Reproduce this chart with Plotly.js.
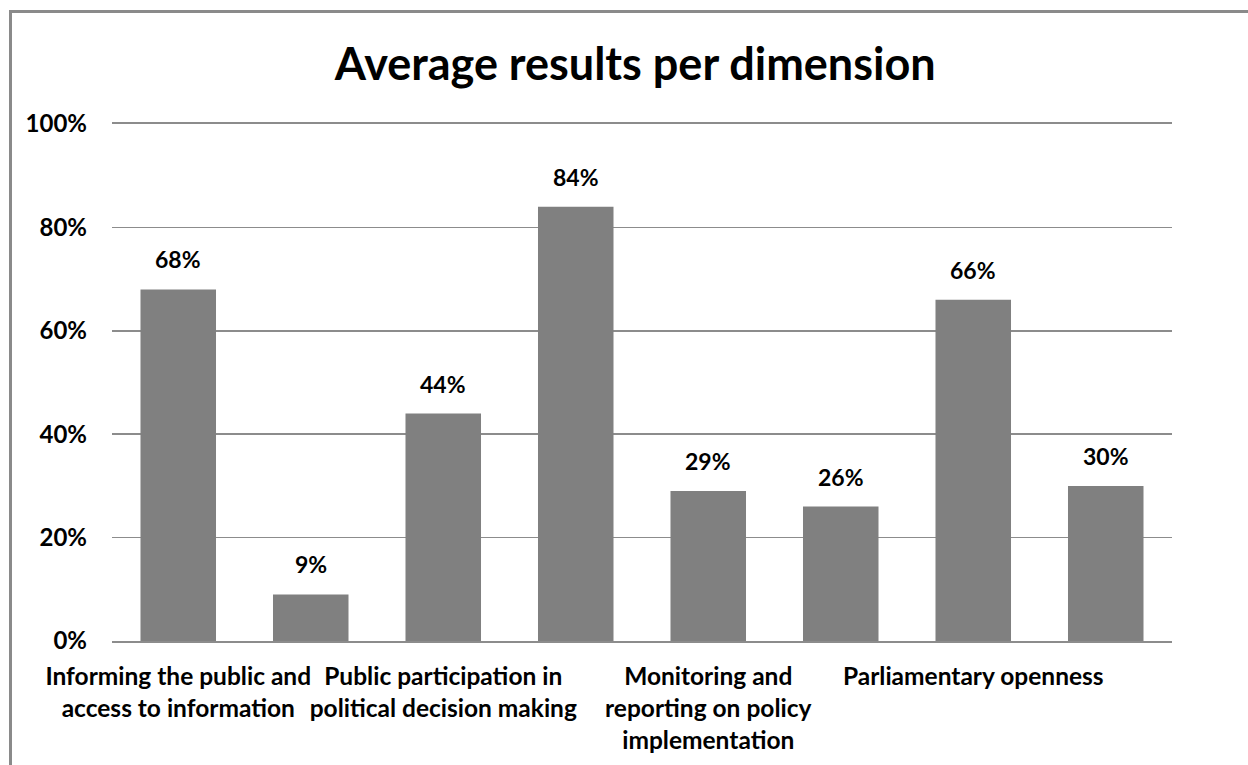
<!DOCTYPE html>
<html>
<head>
<meta charset="utf-8">
<script src="https://cdn.plot.ly/plotly-3.0.1.min.js"></script>
<style>
  html, body { margin: 0; padding: 0; background: #ffffff; }
  #frame {
    position: absolute; left: 9px; top: 10px; width: 1300px; height: 800px;
    border-top: 3px solid #8a8a8a; border-left: 3px solid #8a8a8a;
    background: #ffffff;
  }
  #chart { position: absolute; left: 0; top: 0; width: 1248px; height: 765px; }
</style>
</head>
<body>
<div id="frame"></div>
<div id="chart"></div>
<script>
// Dimension names, each shown under the first of its two bars
const dimensions = [
  'Informing the public and<br>access to information',
  'Public participation in<br>political decision making',
  'Monitoring and<br>reporting on policy<br>implementation',
  'Parliamentary openness'
];
// Average result per bar, in percent
const values = [68, 9, 44, 84, 29, 26, 66, 30];
const yTicks = [0, 20, 40, 60, 80, 100];
const yTickText = ['0%', '20%', '40%', '60%', '80%', '100%'];

const barPos = values.map((v, i) => i);
const labelPos = dimensions.map((d, i) => i * 2);

const FONT = 'Lato, "Open Sans", sans-serif';

const trace = {
  type: 'bar',
  x: barPos,
  y: values,
  width: 0.57,
  marker: { color: '#808080', line: { width: 0 } },
  hoverinfo: 'skip'
};

const annotations = values.map((v, i) => ({
  x: i, y: v, xref: 'x', yref: 'y',
  text: v + '%',
  showarrow: false,
  yanchor: 'bottom',
  yshift: 14,
  font: { family: FONT, size: 23, color: '#000000', weight: 'bold' }
}));

const layout = {
  width: 1248, height: 765,
  margin: { l: 112, r: 76, t: 124, b: 124 },
  paper_bgcolor: 'rgba(0,0,0,0)',
  plot_bgcolor: 'rgba(0,0,0,0)',
  showlegend: false,
  title: {
    text: 'Average results per dimension',
    font: { family: FONT, size: 45, color: '#000000', weight: 'bold' },
    x: 0.509, xanchor: 'center', xref: 'container',
    y: 0.916, yanchor: 'middle', yref: 'container'
  },
  xaxis: {
    range: [-0.5, 7.5],
    tickvals: labelPos,
    ticktext: dimensions,
    tickangle: 0,
    tickfont: { family: FONT, size: 24.5, color: '#000000', weight: 'bold' },
    ticks: '',
    ticklabelstandoff: 13,
    showgrid: false,
    zeroline: false,
    showline: true,
    mirror: true,
    linecolor: '#8c8c8c',
    linewidth: 2,
    fixedrange: true
  },
  yaxis: {
    range: [0, 100],
    tickvals: yTicks,
    ticktext: yTickText,
    tickfont: { family: FONT, size: 24, color: '#000000', weight: 'bold' },
    ticks: '',
    ticklabelstandoff: 24,
    showgrid: true,
    gridcolor: '#8c8c8c',
    gridwidth: 1.5,
    zeroline: false,
    showline: false,
    fixedrange: true
  },
  annotations: annotations
};

Plotly.newPlot('chart', [trace], layout, { displayModeBar: false, staticPlot: true });
</script>
</body>
</html>
